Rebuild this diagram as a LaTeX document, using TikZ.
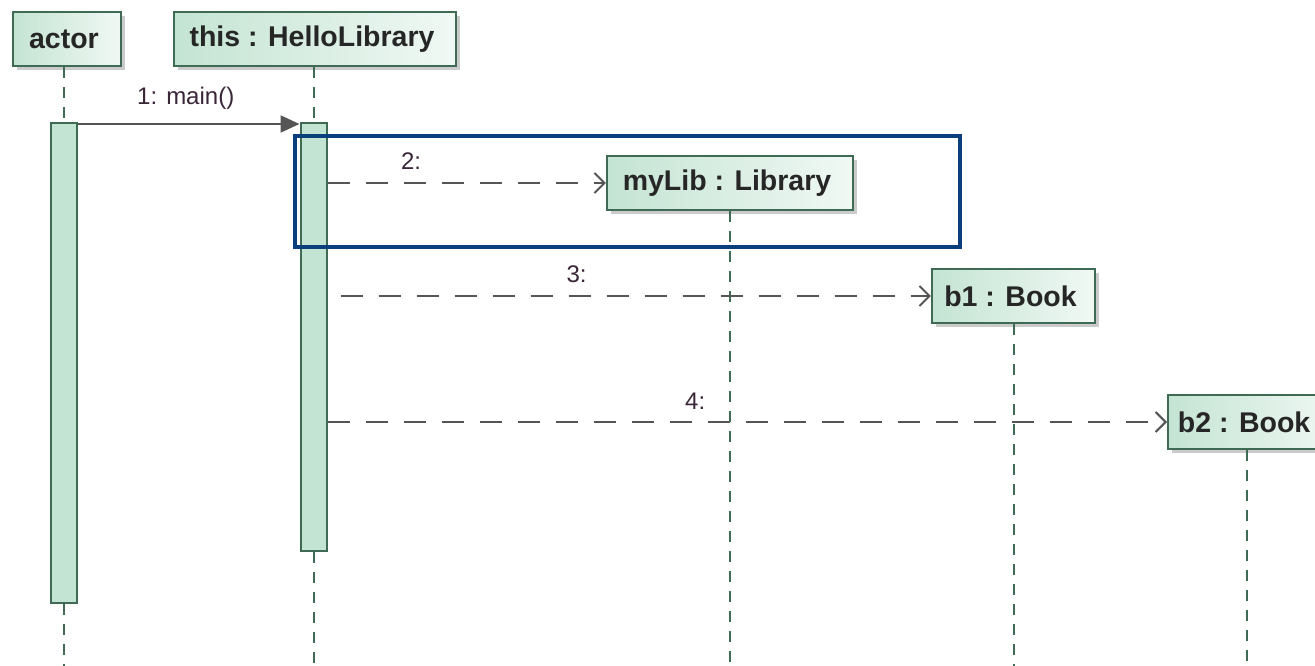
\documentclass[tikz,border=0pt]{standalone}
\usepackage{fontspec}
\setmainfont{Liberation Sans}
\usetikzlibrary{arrows.meta,shadows}
\definecolor{lifefill}{HTML}{C4E4D3}
\definecolor{lifedraw}{HTML}{3F6B55}
\definecolor{msgline}{HTML}{555555}
\definecolor{msgtext}{HTML}{3A2638}
\definecolor{framecol}{HTML}{0B3F7C}
\tikzset{
  x=1pt, y=-1pt,
  objbox/.style={draw=lifedraw, line width=2.2pt, left color=lifefill, right color=lifefill!25!white,
    font=\fontsize{28.5}{31}\selectfont\bfseries, text=black!85, inner sep=0pt, minimum height=54pt,
    drop shadow={shadow xshift=4pt, shadow yshift=-4pt, fill=black!40, opacity=.5}},
  actbar/.style={draw=lifedraw, line width=2pt, fill=lifefill, inner sep=0pt, minimum width=26pt},
  lifeline/.style={draw=lifedraw, line width=2pt, dash pattern=on 11pt off 9pt},
  call/.style={draw=msgline, line width=2pt, -{Triangle[length=19pt,width=17pt]}},
  create/.style={draw=msgline, line width=2pt, dash pattern=on 22pt off 16pt,
    -{Straight Barb[length=10pt,width=20pt,line width=2pt]}},
  msglabel/.style={font=\fontsize{24}{26}\selectfont, text=msgtext, inner sep=0pt},
}
\begin{document}
\begin{tikzpicture}
\useasboundingbox (0,0) rectangle (1315,666);
\fill[white] (0,0) rectangle (1315,666);

% objects
\node[objbox, minimum width=108pt] (actor) at (67,39) {\hspace*{-6pt}actor};
\node[objbox, minimum width=282pt] (hello) at (315,39) {\hspace*{-6pt}this : HelloLibrary};
\node[objbox, minimum width=246pt] (lib) at (730,183) {\hspace*{-6pt}myLib : Library};
\node[objbox, minimum width=163pt] (b1) at (1013.5,296) {\hspace*{-6pt}b1 : Book};
\node[objbox, minimum width=170pt, anchor=west] (b2) at (1167,422)
  {\hspace*{-18pt}b2 : Book};

% activation bars
\node[actbar, minimum height=480pt, anchor=north] (act1) at (64,122) {};
\node[actbar, minimum height=428pt, anchor=north] (act2) at (313.5,122) {};

% lifelines
\draw[lifeline] (act1.north |- actor.south) -- (act1.north);
\draw[lifeline] (act1.south) -- (act1.south |- 0,666);
\draw[lifeline] (act2.north |- hello.south) -- (act2.north);
\draw[lifeline] (act2.south) -- (act2.south |- 0,666);
\draw[lifeline] (lib.south) -- (lib.south |- 0,666);
\draw[lifeline] (b1.south) -- (b1.south |- 0,666);
\draw[lifeline] (b2.south -| 1247,0) -- (1247,666);

% messages
\draw[call] ([yshift=-2pt]act1.north east) -- ([yshift=-2pt]act2.north west)
  node[msglabel, midway, above=14pt, xshift=-3pt] {1:\hspace{9pt}main()};
\draw[create] (act2.east |- lib.west) -- (lib.west)
  node[msglabel, pos=0.3, above=12pt] {2:};
\draw[create] ([xshift=13pt]act2.east |- b1.west) -- (b1.west)
  node[msglabel, pos=0.4, above=12pt] {3:};
\draw[create] (act2.east |- b2.west) -- (b2.west)
  node[msglabel, pos=0.438, above=12pt] {4:};

% highlight frame
\draw[framecol, line width=4pt] (295,136) rectangle (960,247);
\end{tikzpicture}
\end{document}
